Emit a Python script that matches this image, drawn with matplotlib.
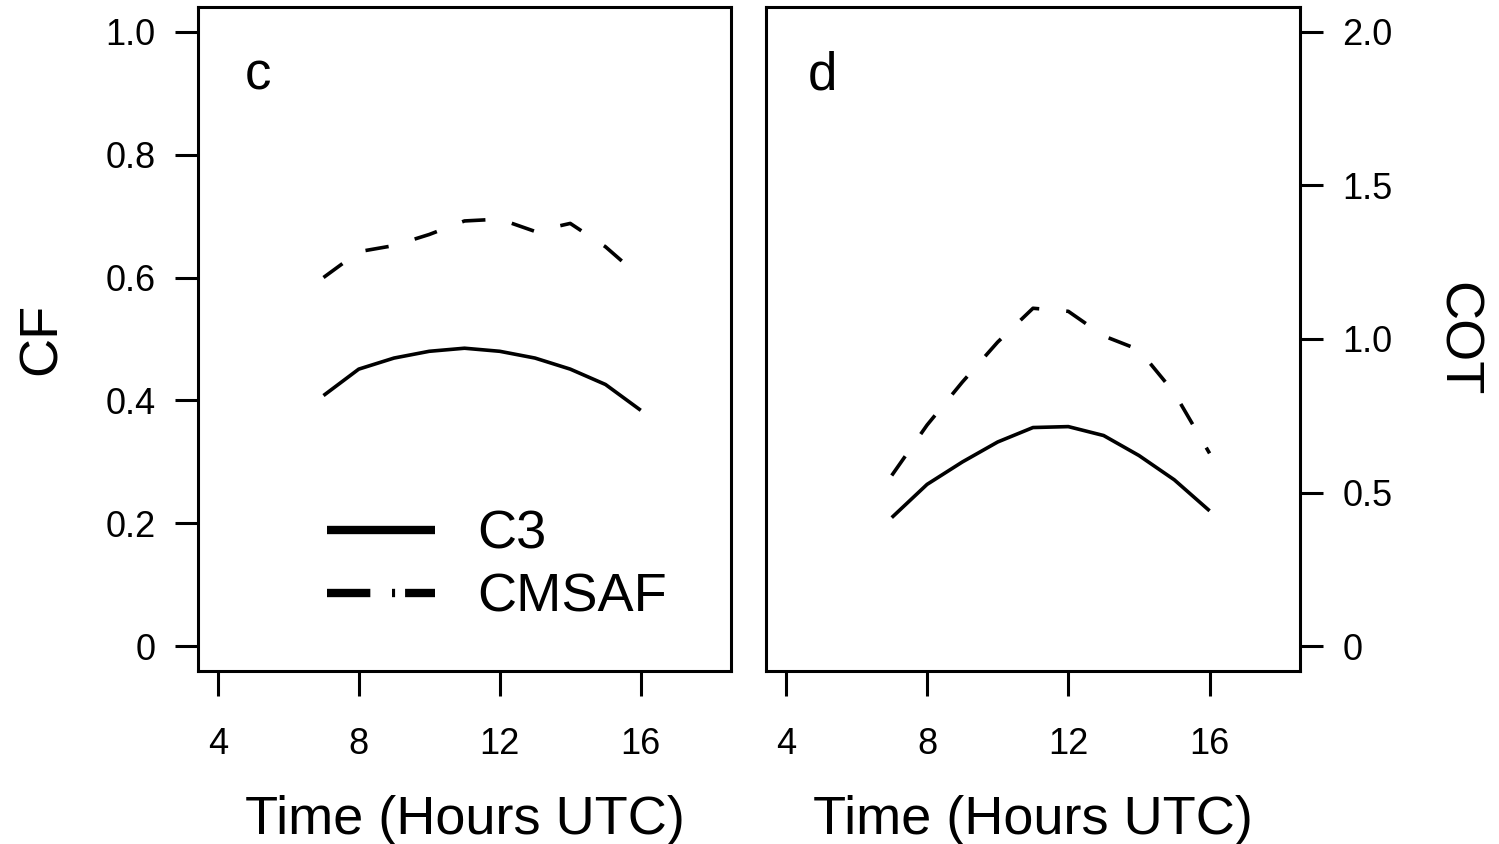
import numpy as np
import matplotlib
matplotlib.use("Agg")
import matplotlib.pyplot as plt
from matplotlib.lines import Line2D

plt.rcParams['font.family'] = ['Liberation Sans', 'DejaVu Sans']

# hours UTC
hours = [7, 8, 9, 10, 11, 12, 13, 14, 15, 16]

# panel c: cloud fraction
cf_c3 = [0.408, 0.451, 0.469, 0.480, 0.485, 0.480, 0.469, 0.451, 0.426, 0.384]
cf_cmsaf = [0.600, 0.642, 0.652, 0.670, 0.692, 0.695, 0.675, 0.688, 0.650, 0.600]

# panel d: cloud optical thickness
cot_c3 = [0.419, 0.527, 0.600, 0.665, 0.712, 0.715, 0.686, 0.621, 0.542, 0.441]
cot_cmsaf = [0.556, 0.720, 0.860, 0.990, 1.100, 1.090, 1.010, 0.965, 0.825, 0.628]

xticks = [4, 8, 12, 16]
cf_ticks = [0, 0.2, 0.4, 0.6, 0.8, 1.0]
cf_labels = ["0", "0.2", "0.4", "0.6", "0.8", "1.0"]
cot_ticks = [0, 0.5, 1.0, 1.5, 2.0]
cot_labels = ["0", "0.5", "1.0", "1.5", "2.0"]

tick_fs = 26
lab_fs = 39
lw = 2.6
dash = (6.5, 7.5)

fig = plt.figure(figsize=(14.99, 8.44), dpi=100)
ax1 = fig.add_axes([198/1499, 1 - 671/844, 533/1499, 664/844])
ax2 = fig.add_axes([766/1499, 1 - 671/844, 534/1499, 664/844])


def style(ax, side):
    ax.set_xlim(4 - 0.56, 18 + 0.56)
    for s in ax.spines.values():
        s.set_linewidth(2.2)
    ax.set_xticks(xticks)
    ax.tick_params(axis='x', direction='out', length=18, width=2.2,
                   pad=22, labelsize=tick_fs)
    ax.tick_params(axis='y', direction='out', length=16.5, width=2.2,
                   pad=14, labelsize=tick_fs)
    if side == 'right':
        ax.yaxis.tick_right()
        ax.yaxis.set_label_position('right')


# ---- panel c
style(ax1, 'left')
ax1.plot(hours, cf_c3, color='black', lw=lw, solid_capstyle='butt')
ax1.plot(hours, cf_cmsaf, color='black', lw=lw, linestyle=(0, dash))
ax1.set_ylim(-0.04, 1.04)
ax1.set_yticks(cf_ticks)
ax1.set_yticklabels(cf_labels)
ax1.set_ylabel("CF", fontsize=lab_fs, labelpad=28)
ax1.set_xlabel("Time (Hours UTC)", fontsize=lab_fs, labelpad=24)
ax1.text(0.088, 0.875, "c", transform=ax1.transAxes, fontsize=38,
         ha='left', va='baseline')

handles = [
    Line2D([], [], color='black', lw=6, solid_capstyle='butt'),
    Line2D([], [], color='black', lw=6,
           linestyle=(0, (5.2, 2.6, 0.37, 1.2, 5.2, 2.6)),
           dash_capstyle='butt'),
]
ax1.legend(handles, ["C3", "CMSAF"], loc='upper left',
           bbox_to_anchor=(0.242, 0.243), frameon=False, fontsize=lab_fs,
           handlelength=2.0, handletextpad=0.78, labelspacing=0.24,
           borderpad=0, borderaxespad=0)

# ---- panel d
style(ax2, 'right')
ax2.plot(hours, cot_c3, color='black', lw=lw, solid_capstyle='butt')
ax2.plot(hours, cot_cmsaf, color='black', lw=lw, linestyle=(0, dash))
ax2.set_ylim(-0.08, 2.08)
ax2.set_yticks(cot_ticks)
ax2.set_yticklabels(cot_labels)
ax2.set_ylabel("COT", fontsize=lab_fs, rotation=270, labelpad=64)
ax2.set_xlabel("Time (Hours UTC)", fontsize=lab_fs, labelpad=24)
ax2.text(0.079, 0.875, "d", transform=ax2.transAxes, fontsize=38,
         ha='left', va='baseline')

plt.savefig("out.png", dpi=100)
